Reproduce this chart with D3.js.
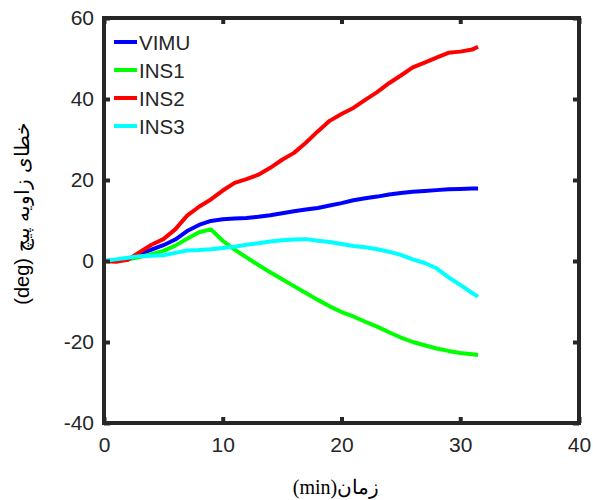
<!DOCTYPE html>
<html><head><meta charset="utf-8">
<script src="https://cdn.jsdelivr.net/npm/d3@7"></script>
<style>body{margin:0;background:#fff}</style>
</head><body>
<svg id="c" width="593" height="500"></svg>
<script>
const timeMin = [0,1,2,3,4,5,6,7,8,9,10,11,12,13,14,15,16,17,18,19,20,21,22,23,24,25,26,27,28,29,30,31,31.5];
const vimu = [0,0.1,0.4,1.6,2.8,3.9,5.3,7.4,8.9,9.9,10.3,10.5,10.6,10.9,11.3,11.8,12.3,12.7,13.1,13.7,14.3,15.0,15.5,15.9,16.4,16.8,17.1,17.3,17.5,17.7,17.8,17.9,17.9];
const ins1 = [0,0,0.4,1.0,1.7,2.5,3.8,5.5,7.1,7.8,5.0,2.8,0.9,-1.0,-2.8,-4.5,-6.2,-7.9,-9.6,-11.2,-12.6,-13.7,-15.0,-16.2,-17.6,-18.9,-20.0,-20.8,-21.6,-22.2,-22.7,-23.0,-23.2];
const ins2 = [0,-0.2,0.3,2.2,4.0,5.4,7.8,11.2,13.4,15.2,17.4,19.3,20.2,21.3,23.0,25.0,26.7,29.2,32.0,34.6,36.3,37.8,39.8,41.7,43.9,45.8,47.8,49.0,50.2,51.4,51.7,52.2,52.9];
const ins3 = [0,0.4,0.8,1.2,1.3,1.4,2.0,2.6,2.7,2.9,3.2,3.5,4.0,4.4,4.8,5.1,5.3,5.4,5.0,4.7,4.2,3.7,3.4,2.9,2.3,1.5,0.4,-0.5,-1.8,-4.0,-5.9,-7.9,-8.8];
const seriesNames = ["VIMU","INS1","INS2","INS3"];
const seriesColors = ["#0000ff","#00ff00","#ff0000","#00ffff"];
const xTicks = [0,10,20,30,40];
const yTicks = [-40,-20,0,20,40,60];
const xLabel = "(min)زمان";
const yLabel = "(deg) خطای زاویه پیچ";

const svg = d3.select("#c");
const L=104, R=579, T=18, B=423;
const x = d3.scaleLinear().domain([0,40]).range([L,R]);
const y = d3.scaleLinear().domain([-40,60]).range([B,T]);
const ax = "#262626";
const font = "'Liberation Sans', Arial, sans-serif";
const fmt = d => String(d);

const allSeries = [vimu, ins1, ins2, ins3];
const line = d3.line().x((d,i)=>x(timeMin[i])).y(d=>y(d));
allSeries.forEach((s,k)=>{
  svg.append("path").datum(s).attr("d",line).attr("fill","none")
    .attr("stroke",seriesColors[k]).attr("stroke-width",4).attr("stroke-linejoin","round");
});

// axes
const gx = svg.append("g").attr("transform",`translate(0,${B})`)
  .call(d3.axisBottom(x).tickValues(xTicks).tickSize(-6).tickPadding(14).tickFormat(fmt));
const gx2 = svg.append("g").attr("transform",`translate(0,${T})`)
  .call(d3.axisTop(x).tickValues(xTicks).tickSize(-6).tickFormat(""));
const gy = svg.append("g").attr("transform",`translate(${L},0)`)
  .call(d3.axisLeft(y).tickValues(yTicks).tickSize(-6).tickPadding(10).tickFormat(fmt));
const gy2 = svg.append("g").attr("transform",`translate(${R},0)`)
  .call(d3.axisRight(y).tickValues(yTicks).tickSize(-6).tickFormat(""));
[gx,gx2,gy,gy2].forEach(g=>{
  g.select(".domain").remove();
  g.selectAll(".tick line").attr("stroke",ax).attr("stroke-width",4);
  g.selectAll("text").attr("fill",ax).style("font-family",font).style("font-size","21px");
});
svg.append("rect").attr("x",L).attr("y",T).attr("width",R-L).attr("height",B-T)
  .attr("fill","none").attr("stroke",ax).attr("stroke-width",4);

// legend
seriesNames.forEach((n,k)=>{
  const yy = 42 + k*28;
  svg.append("line").attr("x1",114).attr("x2",137).attr("y1",yy).attr("y2",yy)
    .attr("stroke",seriesColors[k]).attr("stroke-width",4);
  svg.append("text").attr("x",139).attr("y",yy+7.5).text(n)
    .attr("fill",ax).style("font-family",font).style("font-size","20.5px");
});

// labels
svg.append("text").attr("x",336).attr("y",494).attr("text-anchor","middle")
  .attr("fill","#000").style("font-family","'Liberation Serif','Times New Roman',serif").style("font-size","20px")
  .text(xLabel);
svg.append("text").attr("transform","translate(24,214) rotate(-90)").attr("text-anchor","middle")
  .attr("dominant-baseline","middle")
  .attr("fill","#000").style("font-family",font).style("font-size","20px")
  .text(yLabel);
</script>
</body></html>
